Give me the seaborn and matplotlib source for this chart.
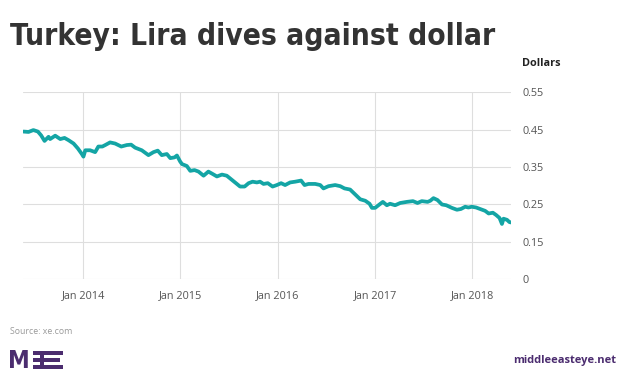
import matplotlib
matplotlib.use("Agg")
import matplotlib.pyplot as plt
from matplotlib.patches import Rectangle
import seaborn as sns
import pandas as pd

# Lira en dolares (lectura aproximada del grafico)
fechas = [
    "2013-05-22", "2013-06-10", "2013-06-28", "2013-07-15", "2013-07-27",
    "2013-08-09", "2013-08-24", "2013-08-30", "2013-09-18", "2013-10-07",
    "2013-10-23", "2013-11-07", "2013-11-26", "2013-12-12", "2013-12-27",
    "2014-01-02", "2014-01-09", "2014-01-27", "2014-02-15", "2014-02-27",
    "2014-03-14", "2014-03-25", "2014-04-12", "2014-05-01", "2014-05-24",
    "2014-06-14", "2014-06-30", "2014-07-15", "2014-08-09", "2014-09-03",
    "2014-09-22", "2014-10-08", "2014-10-23", "2014-11-11", "2014-11-24",
    "2014-12-10", "2014-12-19", "2014-12-31", "2015-01-07", "2015-01-25",
    "2015-02-07", "2015-02-23", "2015-03-10", "2015-03-29", "2015-04-16",
    "2015-05-01", "2015-05-18", "2015-06-06", "2015-06-24", "2015-07-13",
    "2015-08-01", "2015-08-13", "2015-08-30", "2015-09-14", "2015-09-29",
    "2015-10-15", "2015-10-27", "2015-11-09", "2015-11-25", "2015-12-13",
    "2015-12-29", "2016-01-14", "2016-01-29", "2016-02-17", "2016-03-07",
    "2016-03-29", "2016-04-11", "2016-04-26", "2016-05-21", "2016-06-09",
    "2016-06-21", "2016-07-10", "2016-08-04", "2016-08-23", "2016-09-08",
    "2016-09-29", "2016-10-18", "2016-11-06", "2016-11-25", "2016-12-11",
    "2016-12-20", "2017-01-01", "2017-01-17", "2017-01-30", "2017-02-14",
    "2017-02-26", "2017-03-17", "2017-04-05", "2017-04-30", "2017-05-23",
    "2017-06-09", "2017-06-25", "2017-07-17", "2017-07-27", "2017-08-08",
    "2017-08-23", "2017-09-09", "2017-09-25", "2017-10-16", "2017-11-04",
    "2017-11-19", "2017-12-05", "2017-12-17", "2017-12-30", "2018-01-15",
    "2018-01-30", "2018-02-18", "2018-03-03", "2018-03-19", "2018-03-31",
    "2018-04-13", "2018-04-22", "2018-04-28", "2018-05-11", "2018-05-20",
    "2018-05-26",
]
valores = [
    0.445, 0.444, 0.449, 0.445, 0.435,
    0.420, 0.431, 0.425, 0.434, 0.425,
    0.428, 0.422, 0.413, 0.400, 0.385,
    0.378, 0.395, 0.395, 0.390, 0.405,
    0.405, 0.409, 0.416, 0.413, 0.405,
    0.409, 0.410, 0.402, 0.395, 0.382,
    0.390, 0.394, 0.382, 0.385, 0.374,
    0.376, 0.381, 0.365, 0.358, 0.353,
    0.340, 0.342, 0.338, 0.327, 0.338,
    0.332, 0.325, 0.330, 0.327, 0.316,
    0.305, 0.298, 0.298, 0.307, 0.311,
    0.309, 0.311, 0.305, 0.307, 0.298,
    0.302, 0.307, 0.302, 0.309, 0.311,
    0.314, 0.302, 0.305, 0.305, 0.302,
    0.293, 0.299, 0.302, 0.299, 0.293,
    0.290, 0.277, 0.264, 0.260, 0.252,
    0.241, 0.241, 0.250, 0.257, 0.248,
    0.252, 0.248, 0.254, 0.257, 0.259,
    0.254, 0.259, 0.257, 0.260, 0.267,
    0.262, 0.250, 0.248, 0.241, 0.236,
    0.238, 0.244, 0.242, 0.244, 0.242,
    0.238, 0.233, 0.226, 0.228, 0.222,
    0.214, 0.198, 0.212, 0.209, 0.203,
    0.202,
]

# el eje va de 0.05 a 0.55 pero la marca inferior dice "0"
y_ticks = [0.05, 0.15, 0.25, 0.35, 0.45, 0.55]
y_labels = ["0", "0.15", "0.25", "0.35", "0.45", "0.55"]
x_ticks = ["2014-01-01", "2015-01-01", "2016-01-01", "2017-01-01", "2018-01-01"]
x_labels = ["Jan 2014", "Jan 2015", "Jan 2016", "Jan 2017", "Jan 2018"]

TEAL = "#14a5a5"
PURPLE = "#4b2c6f"
GRID = "#dedede"

df = pd.DataFrame({"fecha": pd.to_datetime(fechas), "valor": valores})

sns.set_theme(style="white")
plt.rcParams["font.family"] = ["Open Sans", "DejaVu Sans"]

fig = plt.figure(figsize=(6.2, 3.9), dpi=100)
ax = fig.add_axes([22.7 / 620, 1 - 279.3 / 390, (511 - 22.7) / 620, (279.3 - 92.3) / 390])

sns.lineplot(data=df, x="fecha", y="valor", ax=ax, color=TEAL, linewidth=2.7,
             solid_joinstyle="round", solid_capstyle="round")

ax.set_xlim(pd.Timestamp("2013-05-19"), pd.Timestamp("2018-05-26"))
ax.set_ylim(0.05, 0.55)

ax.yaxis.tick_right()
ax.set_yticks(y_ticks)
ax.set_yticklabels(y_labels)
ax.set_xticks(pd.to_datetime(x_ticks))
ax.set_xticklabels(x_labels)

ax.tick_params(axis="y", length=0, pad=8, labelsize=7.8, labelcolor="#555555")
ax.tick_params(axis="x", length=3, width=0.8, color=GRID, pad=5,
               labelsize=7.8, labelcolor="#555555")
ax.grid(True, color=GRID, linewidth=0.8)
ax.set_axisbelow(True)
for s in ax.spines.values():
    s.set_visible(False)
ax.set_xlabel("")
ax.set_ylabel("")

# titulo y textos
fig.text(10 / 620, 1 - 45 / 390, "Turkey: Lira dives against dollar",
         family="DejaVu Sans", fontstretch="condensed", fontweight="bold",
         fontsize=21.4, color="#333333", ha="left", va="baseline")
fig.text(521.7 / 620, 1 - 64 / 390, "Dollars", fontsize=7.8, fontweight="bold",
         color="#222222", ha="left", va="center")
fig.text(10 / 620, 1 - 331 / 390, "Source: xe.com", fontsize=6.3,
         color="#9a9a9a", ha="left", va="center")
fig.text(616 / 620, 1 - 361 / 390, "middleeasteye.net", fontsize=8,
         fontweight="bold", color=PURPLE, ha="right", va="center")

# logo MEE
fig.text(8.5 / 620, 1 - 368.5 / 390, "M", fontsize=17.5, fontweight="bold",
         family="DejaVu Sans", fontstretch="condensed",
         color=PURPLE, ha="left", va="baseline")


def caja(x0, y0, x1, y1):
    fig.patches.append(Rectangle((x0 / 620, 1 - y1 / 390), (x1 - x0) / 620,
                                 (y1 - y0) / 390, transform=fig.transFigure,
                                 color=PURPLE, lw=0))


caja(39.5, 351, 44, 368.5)
caja(33.3, 351, 63.3, 354.5)
caja(33.3, 358, 60, 361.5)
caja(33.3, 365, 63.3, 368.5)

fig.savefig("out.png", dpi=100)
